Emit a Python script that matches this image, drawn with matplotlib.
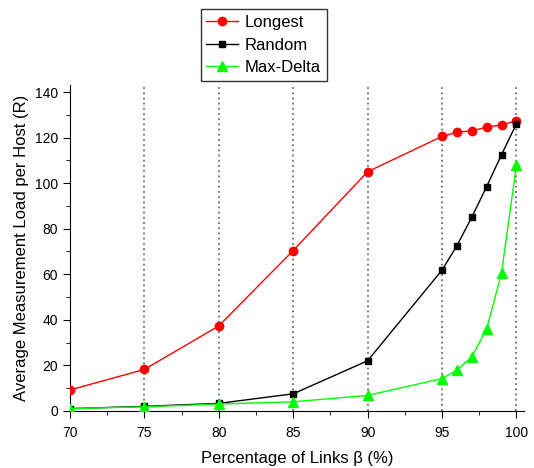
import matplotlib
matplotlib.use("Agg")
import matplotlib.pyplot as plt
from matplotlib.ticker import MultipleLocator

plt.rcParams['font.family'] = ['Liberation Sans', 'DejaVu Sans']

beta = [70, 75, 80, 85, 90, 95, 96, 97, 98, 99, 100]
longest = [9.2, 18.2, 37.3, 70.4, 105.0, 120.5, 122.3, 123.0, 124.5, 125.6, 127.3]
random_ = [1.0, 2.0, 3.3, 7.5, 22.0, 61.8, 72.5, 85.0, 98.5, 112.5, 126.0]
maxdelta = [1.0, 1.8, 3.0, 4.0, 6.8, 14.2, 17.8, 23.8, 36.0, 60.5, 108.0]
vlines = [75, 80, 85, 90, 95, 100]

fig = plt.figure(figsize=(5.34, 4.68), dpi=100)
ax = fig.add_axes([0.131, 0.122, 0.850, 0.696])

for v in vlines:
    ax.axvline(v, color='#555555', linestyle=(0, (1.2, 2.2)), linewidth=1.1, zorder=1)

ax.plot(beta, longest, color='red', marker='o', markersize=6, linewidth=1, label='Longest', zorder=3)
ax.plot(beta, random_, color='black', marker='s', markersize=5, linewidth=1, label='Random', zorder=3)
ax.plot(beta, maxdelta, color='#00ff00', marker='^', markersize=6.5, linewidth=1, label='Max-Delta', zorder=3)

ax.set_xlim(70, 100.5)
ax.set_ylim(0, 143)
ax.xaxis.set_major_locator(MultipleLocator(5))
ax.xaxis.set_minor_locator(MultipleLocator(2.5))
ax.yaxis.set_major_locator(MultipleLocator(20))
ax.yaxis.set_minor_locator(MultipleLocator(10))
ax.tick_params(direction='out', which='major', length=5, labelsize=10)
ax.tick_params(axis='x', which='major', pad=6)
ax.tick_params(direction='out', which='minor', length=3)
ax.spines['top'].set_visible(False)
ax.spines['right'].set_visible(False)

ax.set_xlabel('Percentage of Links β (%)', fontsize=12, labelpad=8)
ax.set_ylabel('Average Measurement Load per Host (R)', fontsize=12)

leg = fig.legend(loc='upper left', bbox_to_anchor=(0.36, 0.998), fontsize=12,
                 frameon=True, fancybox=False, edgecolor='black', handlelength=1.9,
                 borderpad=0.35, labelspacing=0.45, handletextpad=0.4)
leg.get_frame().set_linewidth(1)

fig.savefig('out.png', dpi=100)
